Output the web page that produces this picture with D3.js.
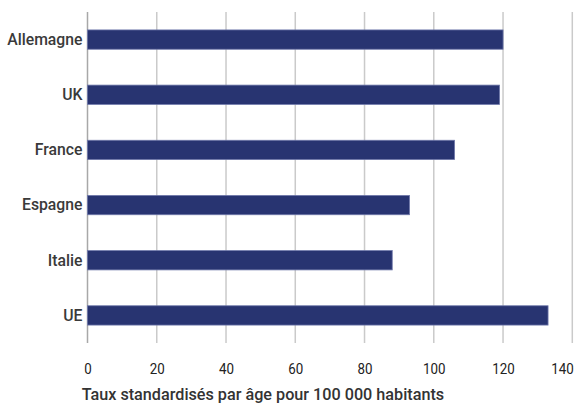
<!DOCTYPE html>
<html>
<head>
<meta charset="utf-8">
<script src="https://cdn.jsdelivr.net/npm/d3@7"></script>
<style>
  html, body { margin: 0; padding: 0; background: #fff; }
  svg text { font-family: "Roboto", "Liberation Sans", sans-serif; }
</style>
</head>
<body>
<svg id="chart" width="584" height="403"></svg>
<script>
// Age-standardised rates per 100,000 inhabitants
const countries = ["Allemagne", "UK", "France", "Espagne", "Italie", "UE"];
const rates = [120, 119, 106, 93, 88, 133];
const xTicks = [0, 20, 40, 60, 80, 100, 120, 140];
const xTitle = "Taux standardisés par âge pour 100 000 habitants";

const svg = d3.select("#chart");
const plotTop = 12, plotBottom = 343;

const x = d3.scaleLinear().domain([0, 140]).range([87.5, 572.3]);
const y = d3.scaleBand().domain(countries).range([plotTop, plotBottom]).paddingInner(0.65).paddingOuter(0.325);

// narrow the text horizontally so it reads like a condensed face
function condense(sel, factor) {
  sel.each(function () {
    const w = this.getComputedTextLength();
    d3.select(this).attr("textLength", w * factor).attr("lengthAdjust", "spacingAndGlyphs");
  });
}

// vertical gridlines
svg.append("g")
  .selectAll("line")
  .data(xTicks)
  .join("line")
  .attr("x1", d => x(d)).attr("x2", d => x(d))
  .attr("y1", plotTop).attr("y2", plotBottom)
  .attr("stroke", d => d === 0 ? "#a8a8a8" : "#cacaca")
  .attr("stroke-width", 1.5);

// bars
svg.append("g")
  .selectAll("rect")
  .data(countries.map((c, i) => ({ c, v: rates[i] })))
  .join("rect")
  .attr("x", x(0))
  .attr("y", d => y(d.c))
  .attr("width", d => x(d.v) - x(0))
  .attr("height", y.bandwidth())
  .attr("fill", "#283471")
  .attr("stroke", "#6f78aa")
  .attr("stroke-width", 0.8);

// category labels
svg.append("g")
  .attr("transform", `translate(${x(0)},0)`)
  .call(d3.axisLeft(y).tickSize(0).tickPadding(5))
  .call(g => g.select(".domain").remove())
  .selectAll("text")
  .attr("font-size", 16.5)
  .attr("font-weight", 500)
  .attr("fill", "#3a3a3a")
  .call(condense, 0.955);

// value axis labels; the last one is kept inside the right edge
const maxTick = xTicks[xTicks.length - 1];
svg.append("g")
  .attr("transform", `translate(0,364)`)
  .call(d3.axisBottom(x).tickValues(xTicks).tickSize(0).tickPadding(0).tickFormat(d3.format("d")))
  .call(g => g.select(".domain").remove())
  .selectAll("text")
  .attr("font-size", 14.5)
  .attr("fill", "#222")
  .attr("text-anchor", d => d === maxTick ? "end" : "middle")
  .attr("x", d => d === maxTick ? 1 : 0)
  .call(condense, 0.92);

svg.append("text")
  .attr("x", 81.7)
  .attr("y", 400)
  .attr("font-size", 16.2)
  .attr("font-weight", 500)
  .attr("fill", "#333")
  .text(xTitle);
</script>
</body>
</html>
